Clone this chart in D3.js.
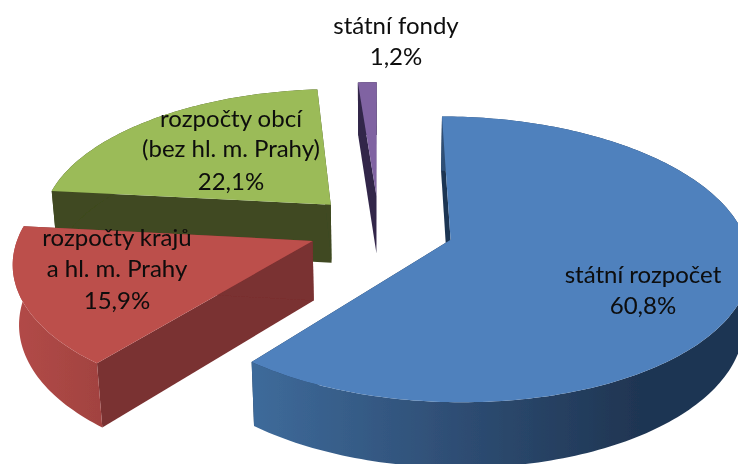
<!DOCTYPE html>
<html>
<head>
<meta charset="utf-8">
<script src="https://cdn.jsdelivr.net/npm/d3@7"></script>
<style>
html, body { margin: 0; padding: 0; background: #fff; }
svg { display: block; }
text { font-family: Lato, "Open Sans", sans-serif; font-size: 24px; fill: #0a0a0a; text-anchor: middle; }
</style>
</head>
<body>
<div id="pie_chart"></div>
<script>
//chart data
var categories = ["státní rozpočet", "rozpočty krajů", "rozpočty obcí", "státní fondy"];
var values = [60.8, 15.9, 22.1, 1.2];
var valueLabels = ["60,8%", "15,9%", "22,1%", "1,2%"];
var extraLines = ["", "a hl. m. Prahy", "(bez hl. m. Prahy)", ""];

//colours of each slice (top face, side wall)
var topColors = ["#4f81bd", "#bc4f4c", "#9bbb59", "#8064a2"];
var wallColors = ["#1f3552", "#7a3030", "#3f4a20", "#32264a"];

//projection settings
var width = 738, height = 464;
var cx = 379, cy = 228, rx = 292, ry = 137;
var persp = 0.135, shrink = 0.017, depth = 60;
var explode = [0.257, 0.243, 0.243, 0.243];
var firstAngle = 0;

var svg = d3.select("#pie_chart")
  .append("svg")
  .attr("width", width)
  .attr("height", height);

var defs = svg.append("defs");
defs.append("filter").attr("id", "soft")
  .append("feGaussianBlur").attr("stdDeviation", 0.55);

//wall gradients (blue and red go darker to the right)
function addGradient(id, x1, x2, stops) {
  var g = defs.append("linearGradient").attr("id", id)
    .attr("gradientUnits", "userSpaceOnUse")
    .attr("x1", x1).attr("x2", x2).attr("y1", 0).attr("y2", 0);
  stops.forEach(function(s) {
    g.append("stop").attr("offset", s[0]).attr("stop-color", s[1]);
  });
}
addGradient("wall0", 250, 640, [[0, "#3e6b9b"], [0.5, "#2f4f76"], [1, "#1f3552"]]);
addGradient("wall1", 15, 110, [[0, "#b24a47"], [1, "#a04240"]]);

var pie = d3.pie().sort(null).value(function(d) { return d; })
  .startAngle(firstAngle)
  .endAngle(firstAngle + 2 * Math.PI);
var slices = pie(values);

//plane coordinates -> screen, z = 0 top face, z = 1 bottom face
function project(p, z) {
  var w = 1 - persp * p[1] + shrink * z;
  return [cx + rx * p[0] / w, cy + (ry * p[1] + depth * z) / w];
}

var line = d3.line();
var chart = svg.append("g").attr("filter", "url(#soft)");

//painting order: back slices first
[3, 2, 1, 0].forEach(function(i) {
  var s = slices[i];
  var mid = (s.startAngle + s.endAngle) / 2;
  var c = [explode[i] * Math.sin(mid), -explode[i] * Math.cos(mid)];
  var n = Math.max(4, Math.ceil((s.endAngle - s.startAngle) / 0.02));
  var rim = d3.range(n + 1).map(function(k) {
    var a = s.startAngle + (s.endAngle - s.startAngle) * k / n;
    return [c[0] + Math.sin(a), c[1] - Math.cos(a)];
  });
  var first = rim[0], last = rim[n];

  //two flat cut walls
  [first, last].forEach(function(e) {
    chart.append("path")
      .attr("d", line([project(c, 0), project(e, 0), project(e, 1), project(c, 1)]) + "Z")
      .attr("fill", wallColors[i]);
  });

  //curved outer wall
  var wallPts = rim.map(function(p) { return project(p, 0); })
    .concat(rim.slice().reverse().map(function(p) { return project(p, 1); }));
  chart.append("path")
    .attr("d", line(wallPts) + "Z")
    .attr("fill", i < 2 ? "url(#wall" + i + ")" : wallColors[i]);

  //top face
  var topPts = [project(c, 0)].concat(rim.map(function(p) { return project(p, 0); }));
  chart.append("path")
    .attr("d", line(topPts) + "Z")
    .attr("fill", topColors[i]);
});

//labels
var labelX = [643, 117, 231, 396];
var labelY = [[283, 314], [246, 277, 309], [127, 157, 190], [34, 65]];
var labels = svg.append("g").attr("filter", "url(#soft)");
categories.forEach(function(name, i) {
  var rows = [name];
  if (extraLines[i]) rows.push(extraLines[i]);
  rows.push(valueLabels[i]);
  rows.forEach(function(t, j) {
    labels.append("text").attr("x", labelX[i]).attr("y", labelY[i][j]).text(t);
  });
});
</script>
</body>
</html>
